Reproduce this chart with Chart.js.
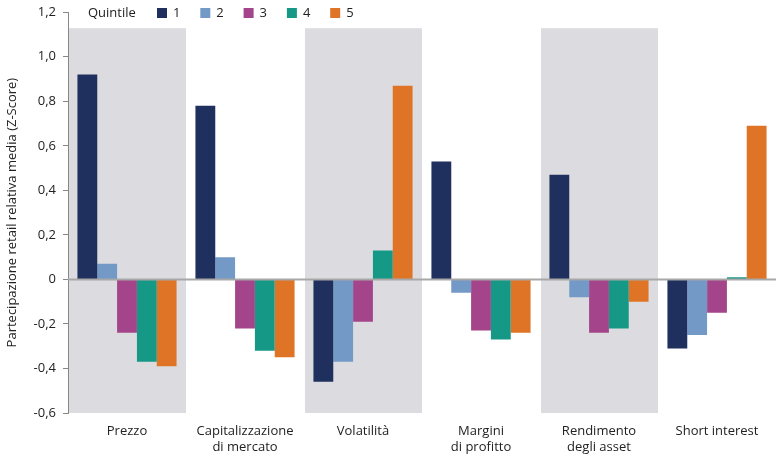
<!DOCTYPE html>
<html>
<head>
<meta charset="utf-8">
<script src="https://cdn.jsdelivr.net/npm/chart.js@4"></script>
<style>
  body { margin: 0; background: #fff; }
  #wrap { width: 780px; height: 460px; position: relative; }
</style>
</head>
<body>
<div id="wrap"><canvas id="myChart"></canvas></div>
<script>
const categories = ['Prezzo', ['Capitalizzazione', 'di mercato'], 'Volatilità', ['Margini', 'di profitto'], ['Rendimento', 'degli asset'], 'Short interest'];
const quintiles = ['1', '2', '3', '4', '5'];
const q1 = [0.92, 0.78, -0.46, 0.53, 0.47, -0.31];
const q2 = [0.07, 0.10, -0.37, -0.06, -0.08, -0.25];
const q3 = [-0.24, -0.22, -0.19, -0.23, -0.24, -0.15];
const q4 = [-0.37, -0.32, 0.13, -0.27, -0.22, 0.01];
const q5 = [-0.39, -0.35, 0.87, -0.24, -0.10, 0.69];
const colors = ['#1f2f5e', '#7399c6', '#a4448a', '#169886', '#e07426'];
const yTicks = [-0.6, -0.4, -0.2, 0, 0.2, 0.4, 0.6, 0.8, 1.0, 1.2];

const fontFamily = '"Open Sans", "Noto Sans", sans-serif';
Chart.defaults.font.family = fontFamily;
Chart.defaults.font.size = 13;
Chart.defaults.color = '#222';

const series = [q1, q2, q3, q4, q5];

const data = {
    labels: categories,
    datasets: series.map((vals, i) => ({
        label: quintiles[i],
        data: vals,
        backgroundColor: colors[i],
        borderWidth: 0,
        barPercentage: 1.0,
        categoryPercentage: 0.84,
    }))
};

// grey bands behind odd categories + zero line
const bands = {
    id: 'bands',
    beforeDatasetsDraw(chart) {
        const {ctx, chartArea, scales: {x}} = chart;
        const w = x.width / categories.length;
        ctx.save();
        ctx.fillStyle = '#dcdce0';
        for (let i = 0; i < categories.length; i += 2) {
            const cx = x.getPixelForValue(i);
            ctx.fillRect(cx - w / 2 + 1, chartArea.top + 16, w - 1, chartArea.bottom - chartArea.top - 16);
        }
        ctx.restore();
    },
    afterDatasetsDraw(chart) {
        const {ctx, chartArea, scales: {y}} = chart;
        const y0 = y.getPixelForValue(0);
        ctx.save();
        ctx.strokeStyle = '#a8a8a8';
        ctx.lineWidth = 2;
        ctx.beginPath();
        ctx.moveTo(chartArea.left, y0);
        ctx.lineTo(chartArea.right, y0);
        ctx.stroke();
        ctx.restore();
    }
};

// inline legend "Quintile ■1 ■2 ..."
const quintLegend = {
    id: 'quintLegend',
    afterDraw(chart) {
        const {ctx} = chart;
        const yy = 13;
        ctx.save();
        ctx.font = '13px ' + fontFamily;
        ctx.textBaseline = 'middle';
        ctx.fillStyle = '#222';
        ctx.fillText('Quintile', 88, yy);
        chart.data.datasets.forEach((ds, i) => {
            const bx = 157 + i * 43.3;
            ctx.fillStyle = ds.backgroundColor;
            ctx.fillRect(bx, yy - 5, 10, 10);
            ctx.fillStyle = '#222';
            ctx.fillText(ds.label, bx + 16, yy);
        });
        ctx.restore();
    }
};

const config = {
    type: 'bar',
    data: data,
    options: {
        responsive: true,
        maintainAspectRatio: false,
        animation: false,
        layout: { padding: { top: 2, right: 4, left: 0, bottom: 0 } },
        plugins: {
            legend: { display: false },
            tooltip: { enabled: false }
        },
        scales: {
            x: {
                grid: { display: false },
                border: { display: false },
                ticks: { maxRotation: 0, autoSkip: false, padding: 3, font: { size: 13, lineHeight: 1.18 }, color: '#222' },
                afterFit(scale) { scale.height = 47; }
            },
            y: {
                min: -0.6,
                max: 1.2,
                afterBuildTicks(scale) { scale.ticks = yTicks.map(v => ({value: v})); },
                grid: { drawOnChartArea: false, drawTicks: true, tickLength: 5, color: '#888' },
                border: { display: true, color: '#888', width: 1 },
                ticks: {
                    padding: 7,
                    color: '#222',
                    font: { size: 13, lineHeight: 0.8 },
                    callback: v => v === 0 ? '0' : v.toFixed(1).replace('.', ',')
                },
                title: {
                    display: true,
                    text: 'Partecipazione retail relativa media (Z-Score)',
                    color: '#222',
                    font: { size: 13 },
                    padding: { top: 4, bottom: 4 }
                },
                afterFit(scale) { scale.width = 68; }
            }
        }
    },
    plugins: [bands, quintLegend]
};

new Chart(document.getElementById('myChart'), config);
</script>
</body>
</html>
